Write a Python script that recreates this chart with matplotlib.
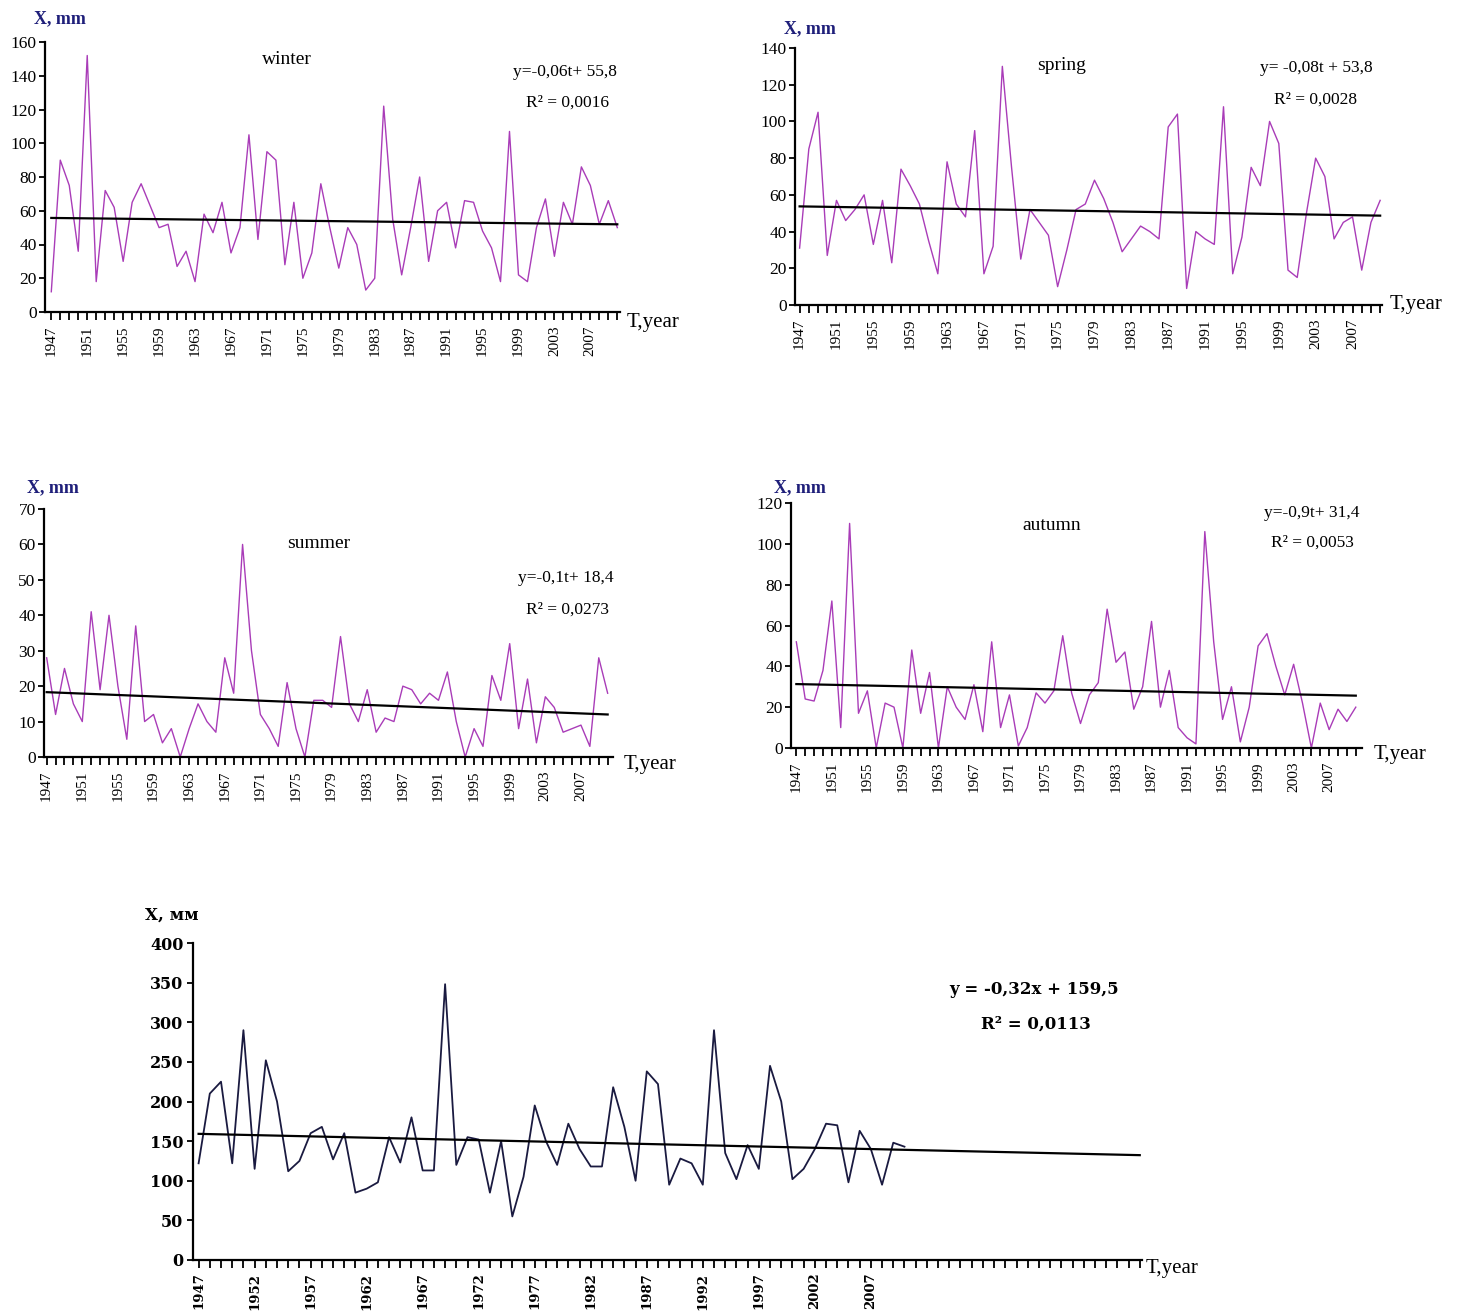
import matplotlib.pyplot as plt

plt.rcParams['font.family'] = ['Liberation Serif', 'DejaVu Serif']

W, H = 1467, 1313

years = list(range(1947, 2011))
axis_years_annual = list(range(1947, 2032))

winter = [12, 90, 75, 36, 152, 18, 72, 62, 30, 65, 76, 63, 50, 52, 27, 36,
          18, 58, 47, 65, 35, 50, 105, 43, 95, 90, 28, 65, 20, 35, 76, 50,
          26, 50, 40, 13, 20, 122, 55, 22, 50, 80, 30, 60, 65, 38, 66, 65,
          48, 38, 18, 107, 22, 18, 50, 67, 33, 65, 52, 86, 75, 52, 66, 50]
spring = [31, 85, 105, 27, 57, 46, 52, 60, 33, 57, 23, 74, 65, 55, 35, 17,
          78, 55, 48, 95, 17, 32, 130, 75, 25, 52, 45, 38, 10, 30, 52, 55,
          68, 58, 45, 29, 36, 43, 40, 36, 97, 104, 9, 40, 36, 33, 108, 17,
          37, 75, 65, 100, 88, 19, 15, 50, 80, 70, 36, 45, 48, 19, 45, 57]
summer = [28, 12, 25, 15, 10, 41, 19, 40, 20, 5, 37, 10, 12, 4, 8, 0,
          8, 15, 10, 7, 28, 18, 60, 30, 12, 8, 3, 21, 8, 0, 16, 16,
          14, 34, 15, 10, 19, 7, 11, 10, 20, 19, 15, 18, 16, 24, 10, 0,
          8, 3, 23, 16, 32, 8, 22, 4, 17, 14, 7, 8, 9, 3, 28, 18]
autumn = [52, 24, 23, 38, 72, 10, 110, 17, 28, 0, 22, 20, 0, 48, 17, 37,
          0, 30, 20, 14, 31, 8, 52, 10, 26, 1, 10, 27, 22, 28, 55, 27,
          12, 26, 32, 68, 42, 47, 19, 30, 62, 20, 38, 10, 5, 2, 106, 52,
          14, 30, 3, 20, 50, 56, 40, 26, 41, 22, 0, 22, 9, 19, 13, 20]
annual = [122, 210, 225, 122, 290, 115, 252, 200, 112, 125, 160, 168, 127, 160, 85, 90,
          98, 155, 123, 180, 113, 113, 348, 120, 155, 152, 85, 150, 55, 105, 195, 150,
          120, 172, 140, 118, 118, 218, 168, 100, 238, 222, 95, 128, 122, 95, 290, 135,
          102, 145, 115, 245, 200, 102, 115, 140, 172, 170, 98, 163, 140, 95, 148, 143]

# trend lines y = a*t + b, t = 1, 2, ...
trend_winter = (-0.06, 55.8)
trend_spring = (-0.08, 53.8)
trend_summer = (-0.10, 18.4)
trend_autumn = (-0.09, 31.4)
trend_annual = (-0.32, 159.5)

seasons = [
    # name, data, trend, equation, r2, ymax, ystep, box(l, r, t, b), xlim, label positions
    ('winter', winter, trend_winter, 'y=-0,06t+ 55,8', 'R² = 0,0016', 160, 20,
     (45, 620, 42, 312), (1946.3, 2010.3),
     dict(xmm=(60, 19), title=(287, 60), eq=(565, 72), r2=(568, 103), tyear=(627, 322))),
    ('spring', spring, trend_spring, 'y= -0,08t + 53,8', 'R² = 0,0028', 140, 20,
     (795, 1382, 48, 305), (1946.5, 2010.2),
     dict(xmm=(810, 29), title=(1062, 65), eq=(1316, 68), r2=(1315, 100), tyear=(1390, 305))),
    ('summer', summer, trend_summer, 'y=-0,1t+ 18,4', 'R² = 0,0273', 70, 10,
     (44, 613, 509, 757), (1946.7, 2010.6),
     dict(xmm=(53, 488), title=(319, 544), eq=(566, 578), r2=(567, 610), tyear=(624, 765))),
    ('autumn', autumn, trend_autumn, 'y=-0,9t+ 31,4', 'R² = 0,0053', 120, 20,
     (791, 1362, 503, 748), (1946.4, 2010.7),
     dict(xmm=(800, 488), title=(1052, 525), eq=(1312, 513), r2=(1312, 543), tyear=(1374, 755))),
]

fig = plt.figure(figsize=(W / 100, H / 100), dpi=100)
fig.patch.set_facecolor('white')


def make_axes(l, r, t, b):
    return fig.add_axes([l / W, 1 - b / H, (r - l) / W, (b - t) / H])


def fig_text(pos, s, **kw):
    fig.text(pos[0] / W, 1 - pos[1] / H, s, **kw)


def style_axes(ax):
    for side in ['top', 'right']:
        ax.spines[side].set_visible(False)
    for side in ['left', 'bottom']:
        ax.spines[side].set_linewidth(1.6)
        ax.spines[side].set_color('black')
    ax.set_facecolor('white')


for name, data, trend, eq, r2, ymax, ystep, box, xlim, pos in seasons:
    ax = make_axes(*box)
    style_axes(ax)
    ax.plot(years, data, color='#A93CB8', lw=1.0)
    t = list(range(1, len(years) + 1))
    ax.plot(years, [trend[0] * ti + trend[1] for ti in t], color='black', lw=1.6)
    ax.set_xlim(*xlim)
    ax.set_ylim(0, ymax)
    ax.set_yticks(list(range(0, ymax + 1, ystep)))
    ax.set_xticks(years)
    ax.set_xticklabels([str(y) if (y - 1947) % 4 == 0 else '' for y in years],
                       rotation=90, fontsize=11)
    ax.tick_params(axis='x', direction='out', length=6, width=1.3, pad=4)
    ax.tick_params(axis='y', direction='out', length=4, width=1.3, pad=2, labelsize=12.5)
    fig_text(pos['xmm'], 'X, mm', color='#1F1F7A', fontsize=13, fontweight='bold',
             ha='center', va='center')
    fig_text(pos['title'], name, fontsize=14, ha='center', va='center')
    fig_text(pos['eq'], eq, fontsize=12.5, ha='center', va='center')
    fig_text(pos['r2'], r2, fontsize=12.5, ha='center', va='center')
    fig_text(pos['tyear'], 'T,year', fontsize=15, ha='left', va='center')

# annual
ax = make_axes(193, 1142, 943, 1260)
style_axes(ax)
ax.plot(years, annual, color='#1A1A40', lw=1.3)
t = list(range(1, len(axis_years_annual) + 1))
ax.plot(axis_years_annual, [trend_annual[0] * ti + trend_annual[1] for ti in t],
        color='black', lw=1.6)
ax.set_xlim(1946.5, 2031.2)
ax.set_ylim(0, 400)
ax.set_yticks(list(range(0, 401, 50)))
ax.set_yticklabels([str(v) for v in range(0, 401, 50)], family='DejaVu Serif',
                   fontweight='bold', fontsize=11.5)
ax.set_xticks(axis_years_annual)
ax.set_xticklabels([str(y) if (y - 1947) % 5 == 0 and y <= 2007 else '' for y in axis_years_annual],
                   rotation=90, fontsize=9.5, fontweight='bold', family='DejaVu Serif')
ax.tick_params(axis='x', direction='out', length=6, width=1.3, pad=3)
ax.tick_params(axis='y', direction='out', length=4, width=1.3, pad=3)

fig_text((172, 915), 'X, мм', fontsize=12, fontweight='bold', family='DejaVu Serif',
         ha='center', va='center')
fig_text((1034, 990), 'y = -0,32x + 159,5', fontsize=12, fontweight='bold',
         family='DejaVu Serif', ha='center', va='center')
fig_text((1036, 1024), 'R² = 0,0113', fontsize=12, fontweight='bold',
         family='DejaVu Serif', ha='center', va='center')
fig_text((1146, 1268), 'T,year', fontsize=15, ha='left', va='center')

fig.savefig('out.png', dpi=100)
